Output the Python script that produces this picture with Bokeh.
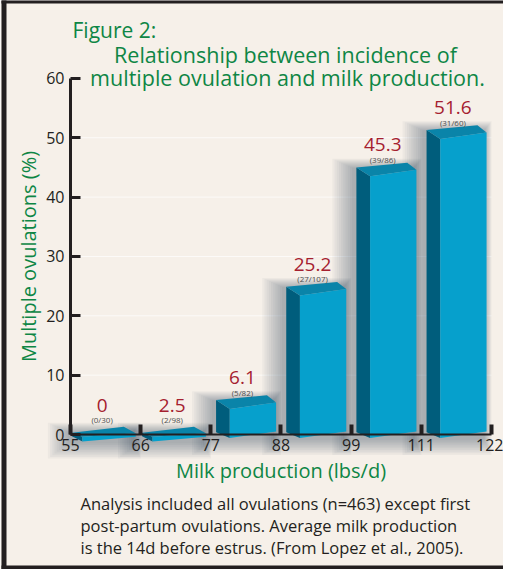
from bokeh.plotting import figure
from bokeh.models import FixedTicker, Label, Range1d
from bokeh.core.properties import value
from bokeh.embed import file_html
from bokeh.resources import INLINE

# ---- data ----
bin_edges = ["55", "66", "77", "88", "99", "111", "122"]
pct = [0, 2.5, 6.1, 25.2, 45.3, 51.6]
pct_labels = ["0", "2.5", "6.1", "25.2", "45.3", "51.6"]
counts = ["(0/30)", "(2/98)", "(5/82)", "(27/107)", "(39/86)", "(31/60)"]
y_ticks = [0, 10, 20, 30, 40, 50, 60]
grid_ticks = [10, 20, 30, 40, 50]

FONT = "Open Sans"
BG = "#f6f0e9"
INK = "#231f20"
GREEN = "#0e8645"
RED = "#a5202f"
FRONT = "#06a0cc"
SIDE = "#005d7c"
TOP = "#0a84a9"

# ---- layout: the frame covers the whole canvas; axes sit at fixed locations ----
W, H = 503, 569
X0, Y0 = 70, 434          # canvas pixel of data origin
PXX, PXY = 70.16, 5.935   # pixels per data unit
XS, XE = -X0 / PXX, (W - X0) / PXX
YS, YE = -(H - Y0) / PXY, Y0 / PXY
p = figure(width=W, height=H, output_backend="svg", toolbar_location=None,
           x_range=Range1d(XS, XE), y_range=Range1d(YS, YE),
           min_border=0, min_border_left=0, min_border_right=0,
           min_border_top=0, min_border_bottom=0)
p.background_fill_color = BG
p.border_fill_color = BG
p.outline_line_color = None
p.grid.visible = False

# ---- surrounding box border (open on the right, as in the source) ----
p.quad(left=[XS + 1 / PXX, XS + 1 / PXX, XS + 1 / PXX],
       right=[XS + 6 / PXX, XE + 1, XE + 1],
       bottom=[YS - 1, YE - 3 / PXY, YS - 1],
       top=[YE + 1, YE + 1, YS + 4 / PXY],
       fill_color=INK, line_color=None)

# faint background grid lines across the plotting area
p.segment(x0=[0] * len(grid_ticks), x1=[len(pct)] * len(grid_ticks), y0=grid_ticks,
          y1=grid_ticks, line_color="white", line_alpha=0.7, line_width=1)

# ---- bar geometry (built from values) ----
side_xs, side_ys, front_xs, front_ys, top_xs, top_ys = [], [], [], [], [], []
sh_l, sh_r, sh_t, sh_b = [], [], [], []
lab_x, lab_y, sub_y = [], [], []

def mix(a, b, t):
    return a + (b - a) * t

for i, v in enumerate(pct):
    t = min(max((v - 2.5) / 3.6, 0.0), 1.0)   # 0 -> thin slab, 1 -> full block
    fl = mix(-0.4, v - 1.8, t)                 # front-left top
    fr = fl + mix(0.6, 1.1, t)
    bl = fl + mix(0.7, 1.5, t)
    br = fl + mix(1.7, 2.3, t)
    fbl = mix(fl - 0.8, -0.6, t)
    fbr = mix(fr - 0.6, 0.5, t)
    sb = mix(bl - 0.6, 0.4, t)
    x0 = i + mix(0.02, 0.075, t)
    x1 = i + mix(0.17, 0.27, t)
    x2 = i + mix(0.76, 0.8, t)
    x3 = i + 0.93
    side_xs.append([x0, x1, x1, x0]); side_ys.append([bl, fl, fbl, sb])
    front_xs.append([x1, x3, x3, x1]); front_ys.append([fl, fr, fbr, fbl])
    top_xs.append([x0, x2, x3, x1]); top_ys.append([bl, br, fr, fl])
    for k in range(1, 11):
        sh_l.append(x0 - (2 + 2.2 * k) / PXX)
        sh_r.append(x3 + (0.8 * k - 3) / PXX)
        sh_t.append(br + (1.0 * k - 6) / PXY)
        sh_b.append(fbl - (1.7 * k) / PXY)
    ly = mix(4.9, v + 3.5, t)
    lab_x.append(i + 0.45); lab_y.append(ly); sub_y.append(ly - 2.45)

p.quad(left=sh_l, right=sh_r, top=sh_t, bottom=sh_b, fill_color="#1d3340",
       fill_alpha=0.04, line_color=None)
p.patches(side_xs, side_ys, fill_color=SIDE, line_color=None)
p.patches(top_xs, top_ys, fill_color=TOP, line_color=None)
p.patches(front_xs, front_ys, fill_color=FRONT, line_color=None)

p.text(x=lab_x, y=lab_y, text=pct_labels, text_font=value(FONT), text_font_size="19px",
       text_color=RED, text_align="center", text_baseline="middle")
p.text(x=lab_x, y=sub_y, text=counts, text_font=value(FONT), text_font_size="8px",
       text_color="#4d4d4d", text_align="center", text_baseline="middle")

# ---- axes ----
xa = p.xaxis[0]
xa.fixed_location = 0
xa.bounds = (0, len(pct))
xa.ticker = FixedTicker(ticks=list(range(len(bin_edges))))
xa.major_label_overrides = {i: b for i, b in enumerate(bin_edges)}
xa.major_tick_in = 10
xa.major_tick_out = 0
xa.major_tick_line_width = 4
xa.major_tick_line_color = INK
xa.minor_tick_line_color = None
xa.axis_line_width = 2
xa.axis_line_color = INK
xa.major_label_text_font = FONT
xa.major_label_text_font_size = "16px"
xa.major_label_text_color = INK
xa.major_label_standoff = 4
xa.axis_label = "Milk production (lbs/d)"
xa.axis_label_text_font = FONT
xa.axis_label_text_font_size = "20px"
xa.axis_label_text_font_style = "normal"
xa.axis_label_text_color = GREEN
xa.axis_label_standoff = 3

ya = p.yaxis[0]
ya.fixed_location = 0
ya.bounds = (0, 60)
ya.ticker = FixedTicker(ticks=y_ticks)
ya.major_tick_in = 10
ya.major_tick_out = 0
ya.major_tick_line_width = 3
ya.major_tick_line_color = INK
ya.minor_tick_line_color = None
ya.axis_line_width = 3
ya.axis_line_color = INK
ya.major_label_text_font = FONT
ya.major_label_text_font_size = "16px"
ya.major_label_text_color = INK
ya.major_label_standoff = 6
ya.axis_label = "Multiple ovulations (%)"
ya.axis_label_text_font = FONT
ya.axis_label_text_font_size = "20px"
ya.axis_label_text_font_style = "normal"
ya.axis_label_text_color = GREEN
ya.axis_label_standoff = 1

# ---- titles and caption ----
def lab(x, y, t, size, color, align="left"):
    p.add_layout(Label(x=x, y=H - y, x_units="screen", y_units="screen", text=t,
                       text_font=FONT, text_font_size=size, text_color=color,
                       text_align=align, text_baseline="middle"))

lab(72, 29, "Figure 2:", "21px", GREEN)
lab(285, 54, "Relationship between incidence of", "21.5px", GREEN, "center")
lab(287, 77, "multiple ovulation and milk production.", "21.5px", GREEN, "center")
lab(80, 503, "Analysis included all ovulations (n=463) except first", "16.5px", INK)
lab(80, 525, "post-partum ovulations.  Average milk production", "16.5px", INK)
lab(80, 547, "is the 14d before estrus. (From Lopez et al., 2005).", "16.5px", INK)

open("out.html", "w").write(file_html(p, INLINE))
